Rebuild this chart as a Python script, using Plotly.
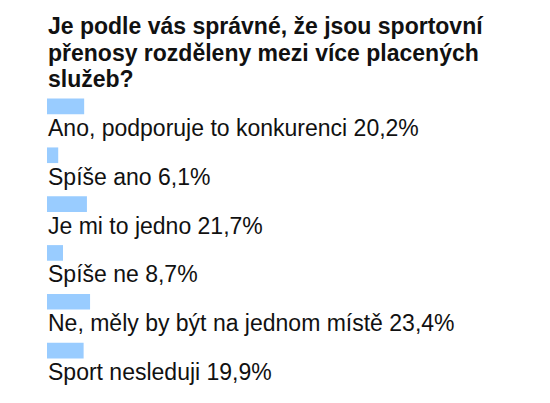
import plotly.graph_objects as go

title_lines = ["Je podle vás správné, že jsou sportovní",
               "přenosy rozděleny mezi více placených",
               "služeb?"]
categories = ["Ano, podporuje to konkurenci", "Spíše ano", "Je mi to jedno",
              "Spíše ne", "Ne, měly by být na jednom místě", "Sport nesleduji"]
values = [20.2, 6.1, 21.7, 8.7, 23.4, 19.9]

W, H = 550, 403
ml, mt, mb = 47, 81.5, 27.5
plot_h = H - mt - mb
plot_w = 184
mr = W - ml - plot_w
FONT = "Arial, Liberation Sans, sans-serif"

fig = go.Figure(go.Bar(
    x=values, y=categories, orientation="h",
    marker=dict(color="#99CCFF", line=dict(width=0)),
    width=0.32, hoverinfo="skip",
))

annotations = []
for c, v in zip(categories, values):
    annotations.append(dict(
        x=0, y=c, xref="x", yref="y", xanchor="left", yanchor="middle",
        text=f"{c} {v:.1f}%".replace(".", ","), showarrow=False,
        yshift=-21.5, xshift=-1,
        font=dict(family=FONT, size=23, color="#111111"),
    ))

title_centers = [25, 52, 78]
for line, py in zip(title_lines, title_centers):
    annotations.append(dict(
        x=0, y=(H - mb - py) / plot_h, xref="paper", yref="paper",
        xanchor="left", yanchor="middle", text=f"<b>{line}</b>",
        showarrow=False, xshift=-1,
        font=dict(family=FONT, size=23, color="#111111"),
    ))

fig.update_layout(
    width=W, height=H,
    margin=dict(l=ml, r=mr, t=mt, b=mb, pad=0),
    paper_bgcolor="white", plot_bgcolor="white",
    showlegend=False,
    xaxis=dict(range=[0, 100], visible=False, fixedrange=True),
    yaxis=dict(range=[5.5, -0.5], visible=False, fixedrange=True,
               categoryorder="array", categoryarray=categories),
    annotations=annotations,
)

fig.write_html("out.html")
